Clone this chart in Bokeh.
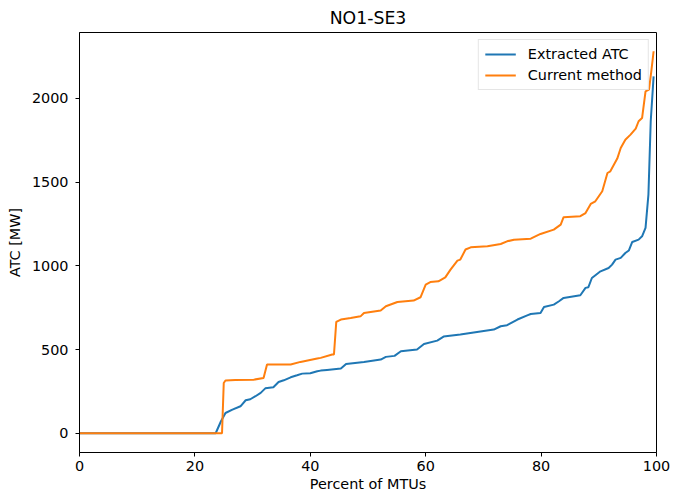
from bokeh.plotting import figure
from bokeh.models import Range1d, FixedTicker, Legend, LegendItem
from bokeh.embed import file_html
from bokeh.resources import INLINE

title = "NO1-SE3"
x_label = "Percent of MTUs"
y_label = "ATC [MW]"
x_ticks = [0, 20, 40, 60, 80, 100]
y_ticks = [0, 500, 1000, 1500, 2000]

series_names = ["Extracted ATC", "Current method"]

x_extracted = [0, 23.6, 24.5, 25.3, 26.5, 27.9, 28.8, 29.6, 30.5, 31.4, 32.2, 33.6, 34.5, 35.4,
               36.6, 37.7, 38.6, 40.0, 41.2, 41.8, 42.9, 45.3, 46.2, 49.3, 52.2, 53.1, 54.6,
               55.7, 58.5, 59.7, 62.0, 63.1, 66.0, 68.9, 71.8, 73.0, 74.1, 75.9, 77.6, 78.2,
               79.9, 80.5, 82.2, 83.1, 83.9, 86.8, 87.7, 88.2, 88.8, 90.3, 91.7, 92.3, 92.9,
               93.8, 94.6, 95.2, 95.8, 96.9, 97.5, 98.1, 98.6, 99.0, 99.5]
y_extracted = [0, 0, 70, 121, 141, 161, 197, 203, 221, 241, 268, 275, 306, 316,
               334, 346, 356, 358, 370, 374, 378, 386, 414, 426, 440, 456, 462,
               490, 500, 533, 553, 577, 589, 605, 619, 639, 645, 679, 704, 712,
               718, 754, 768, 788, 808, 824, 868, 872, 927, 967, 987, 1007, 1037,
               1047, 1076, 1091, 1142, 1156, 1176, 1226, 1425, 1863, 2131]

x_current = [0, 24.7, 25.0, 25.3, 27.0, 30.2, 31.9, 32.5, 36.6, 38.3, 41.2, 41.8, 43.8, 44.1,
             44.5, 45.3, 47.0, 48.7, 49.3, 52.2, 53.1, 55.1, 57.9, 59.1, 60.0, 60.8, 62.2,
             63.4, 64.3, 65.5, 66.0, 66.9, 67.8, 70.7, 73.0, 74.1, 75.3, 78.2, 79.9, 82.2,
             83.4, 83.9, 86.8, 87.7, 88.6, 89.4, 90.6, 91.5, 92.0, 93.2, 93.8, 94.6, 95.5,
             96.4, 96.9, 97.5, 98.1, 98.7, 99.1, 99.5]
y_current = [0, 0, 300, 315, 318, 320, 330, 410, 410, 426, 446, 450, 470, 470,
             665, 679, 688, 698, 718, 733, 758, 784, 792, 812, 888, 903, 907,
             931, 977, 1031, 1037, 1097, 1110, 1116, 1130, 1146, 1156, 1162, 1190, 1216,
             1246, 1290, 1296, 1315, 1369, 1385, 1445, 1554, 1564, 1640, 1703, 1753, 1783,
             1819, 1863, 1882, 2042, 2052, 2161, 2281]

colors = ["#1f77b4", "#ff7f0e"]
FONT = "DejaVu Sans"
FS = "14.4px"

p = figure(width=670, height=496, output_backend="svg", toolbar_location=None,
           x_range=Range1d(0, 100), y_range=Range1d(-115, 2393),
           min_border_left=79, min_border_right=14, min_border_top=31, min_border_bottom=44)

p.title.text = title
p.title.align = "center"
p.title.text_font = FONT
p.title.text_font_size = "17.3px"
p.title.text_font_style = "normal"
p.title.text_color = "black"

p.xgrid.visible = False
p.ygrid.visible = False
p.outline_line_color = "black"
p.outline_line_alpha = 1.0
p.outline_line_width = 1
p.background_fill_color = "white"
p.border_fill_color = "white"

p.xaxis.ticker = FixedTicker(ticks=x_ticks)
p.yaxis.ticker = FixedTicker(ticks=y_ticks)
p.xaxis.axis_label = x_label
p.yaxis.axis_label = y_label
for ax in (p.xaxis, p.yaxis):
    ax.axis_line_color = "black"
    ax.major_tick_line_color = "black"
    ax.major_tick_out = 4
    ax.major_tick_in = 0
    ax.minor_tick_line_color = None
    ax.major_label_text_font = FONT
    ax.major_label_text_font_size = FS
    ax.major_label_text_color = "black"
    ax.axis_label_text_font = FONT
    ax.axis_label_text_font_size = FS
    ax.axis_label_text_font_style = "normal"
    ax.axis_label_text_color = "black"
p.xaxis.major_label_standoff = 4
p.yaxis.major_label_standoff = 7
p.xaxis.axis_label_standoff = 2
p.yaxis.axis_label_standoff = 6

r1 = p.line(x_extracted, y_extracted, line_color=colors[0], line_width=2)
r2 = p.line(x_current, y_current, line_color=colors[1], line_width=2)

legend = Legend(items=[LegendItem(label=series_names[0], renderers=[r1]),
                       LegendItem(label=series_names[1], renderers=[r2])],
                location="top_right", margin=7, padding=6, spacing=5,
                glyph_width=31, glyph_height=16, label_height=16, label_standoff=12,
                label_text_font=FONT, label_text_font_size=FS, label_text_color="black",
                border_line_color="#cccccc", border_line_width=1,
                background_fill_color="white", background_fill_alpha=0.8)
p.add_layout(legend)

open("out.html", "w").write(file_html(p, INLINE))
